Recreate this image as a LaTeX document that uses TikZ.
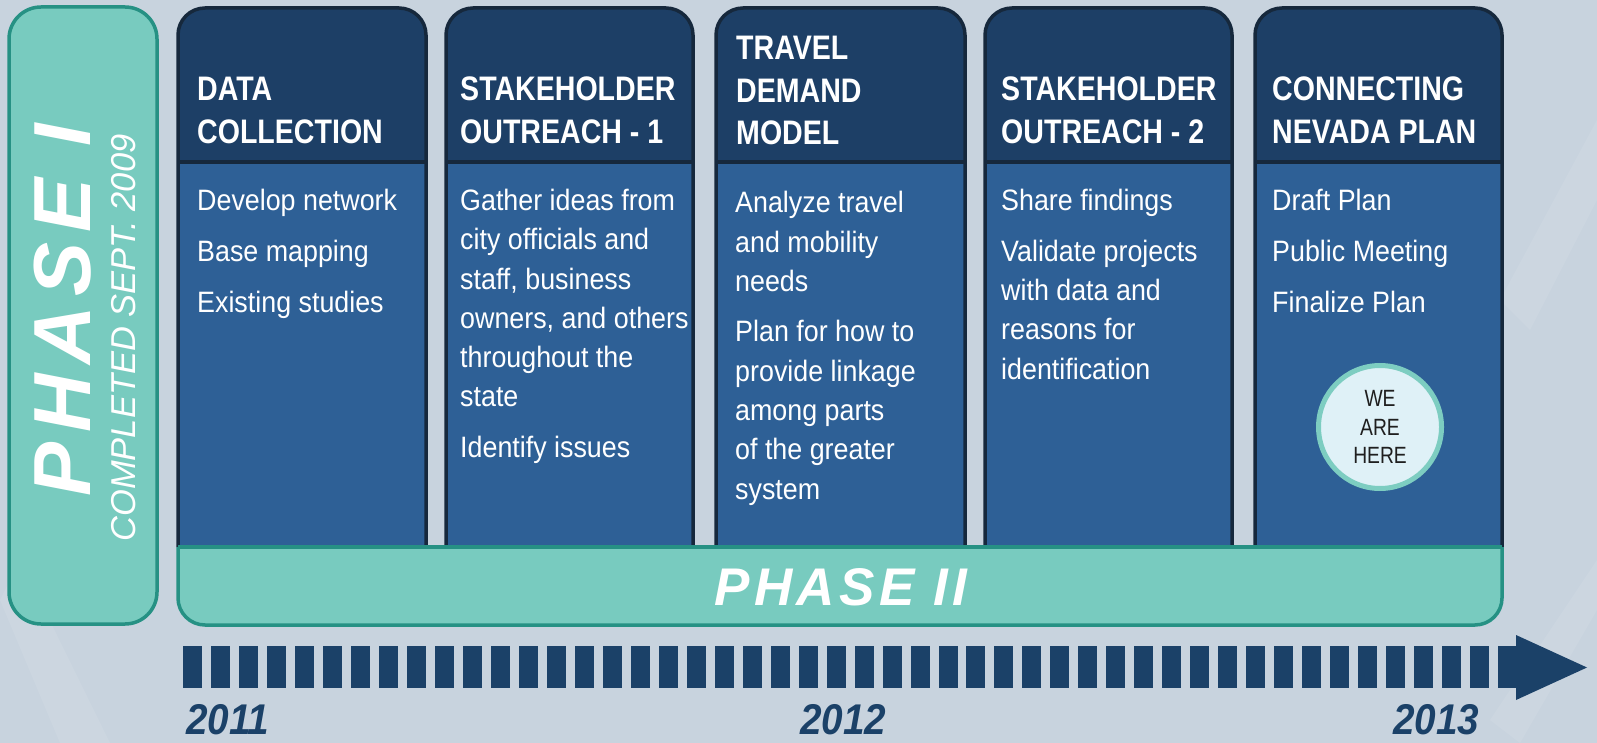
\documentclass[tikz,border=0pt]{standalone}
\usepackage{fontspec}
\setmainfont{Liberation Sans}
\newfontfamily\titlefont{Liberation Sans}[FakeStretch=0.84]
\newfontfamily\bodyfont{Liberation Sans}[FakeStretch=0.91]
\newfontfamily\circfont{Liberation Sans}[FakeStretch=0.82]
\newfontfamily\phasefont{Liberation Sans}[LetterSpace=8]
\newfontfamily\phaseonefont{Liberation Sans}[LetterSpace=12]
\newfontfamily\yearfont{Liberation Sans}[FakeStretch=0.9]
\newfontfamily\plainfont{Liberation Sans}
\definecolor{bgc}{RGB}{200,211,222}
\definecolor{tealfill}{RGB}{120,203,191}
\definecolor{tealline}{RGB}{38,145,132}
\definecolor{headc}{RGB}{29,63,102}
\definecolor{bodyc}{RGB}{46,96,150}
\definecolor{outc}{RGB}{22,40,60}
\definecolor{navy}{RGB}{27,65,104}
\definecolor{circfill}{RGB}{223,241,247}
\definecolor{circline}{RGB}{125,205,193}
\tikzset{
  titletext/.style={anchor=base west, inner sep=0, text=white, font=\titlefont\bfseries\fontsize{34}{42.5}\selectfont},
  bodytext/.style={anchor=base west, inner sep=0, text=white, font=\bodyfont\fontsize{29.5}{39.3}\selectfont},
  yeartext/.style={anchor=base west, inner sep=0, text=navy, font=\yearfont\bfseries\itshape\fontsize{43}{43}\selectfont},
  outline/.style={draw=outc, line width=3.5},
}
\begin{document}
\begin{tikzpicture}[x=1pt,y=-1pt]
\useasboundingbox (0,0) rectangle (1597,743);
\fill[bgc] (0,0) rectangle (1597,743);
% faint streaks
\begin{scope}[opacity=0.08]
\fill[white] (0,600) -- (60,743) -- (110,743) -- (20,560) -- cycle;
\fill[white] (1500,300) -- (1597,120) -- (1597,200) -- (1530,330) -- cycle;
\fill[white] (1490,720) -- (1597,560) -- (1597,610) -- (1520,743) -- cycle;
\end{scope}

% Phase I box
\filldraw[fill=tealfill, draw=tealline, line width=3.5, rounded corners=32] (9,7) rectangle (157,624);
\node[rotate=90, anchor=base, inner sep=0, text=white] (phaseone) at (90,310)
  {\phaseonefont\bfseries\itshape\fontsize{81}{81}\selectfont PHASE I};
\node[rotate=90, anchor=base, inner sep=0, text=white] (completed) at (135,338)
  {\plainfont\itshape\fontsize{34.5}{34.5}\selectfont COMPLETED SEPT. 2009};

% columns
\foreach \a/\b in {178/426,446/693,716/965,985/1232,1255/1502}{
  \fill[headc, rounded corners=27] (\a,8) rectangle (\b,220);
  \fill[bodyc] (\a,162) rectangle (\b,547);
  \draw[outline, rounded corners=27] (\a,547) -- (\a,8) -- (\b,8) -- (\b,547);
  \draw[outline] (\a,162) -- (\b,162);
}

% Phase II bar
\begin{scope}
  \clip (170,547) rectangle (1510,640);
  \filldraw[fill=tealfill, draw=tealline, line width=3.5, rounded corners=27] (178,450) rectangle (1502,625);
\end{scope}
\draw[tealline, line width=3.5] (178,547) -- (1502,547);
\node[anchor=base, inner sep=0, text=white] (phasetwo) at (841,605)
  {\phasefont\bfseries\itshape\fontsize{53}{53}\selectfont PHASE II};

% headers
\node[titletext] (h1) at (197,143.5) {\begin{tabular}[b]{@{}l@{}}DATA\\COLLECTION\end{tabular}};
\node[titletext] (h2) at (460,143.5) {\begin{tabular}[b]{@{}l@{}}STAKEHOLDER\\OUTREACH - 1\end{tabular}};
\node[titletext] (h3) at (736,145) {\begin{tabular}[b]{@{}l@{}}TRAVEL\\DEMAND\\MODEL\end{tabular}};
\node[titletext] (h4) at (1001,143.5) {\begin{tabular}[b]{@{}l@{}}STAKEHOLDER\\OUTREACH - 2\end{tabular}};
\node[titletext] (h5) at (1272,143.5) {\begin{tabular}[b]{@{}l@{}}CONNECTING\\NEVADA PLAN\end{tabular}};

% bodies
\node[bodytext] (b1) at (197,210.5) {\begin{tabular}[t]{@{}l@{}}Develop network\\[11.5pt]Base mapping\\[11.5pt]Existing studies\end{tabular}};
\node[bodytext] (b2) at (460,210.5) {\begin{tabular}[t]{@{}l@{}}Gather ideas from\\city officials and\\staff, business\\owners, and others\\throughout the\\state\\[11pt]Identify issues\end{tabular}};
\node[bodytext] (b3) at (735,213) {\begin{tabular}[t]{@{}l@{}}Analyze travel\\and mobility\\needs\\[11pt]Plan for how to\\provide linkage\\among parts\\of the greater\\system\end{tabular}};
\node[bodytext] (b4) at (1001,211) {\begin{tabular}[t]{@{}l@{}}Share findings\\[11pt]Validate projects\\with data and\\reasons for\\identification\end{tabular}};
\node[bodytext] (b5) at (1272,211) {\begin{tabular}[t]{@{}l@{}}Draft Plan\\[11.5pt]Public Meeting\\[11.5pt]Finalize Plan\end{tabular}};

% we are here
\node[circle, draw=circline, fill=circfill, line width=5, minimum size=123, inner sep=0,
      text=black!88, align=center, font=\circfont\fontsize{23.5}{28.3}\selectfont] (here) at (1380,427) {WE\\ARE\\HERE};

% timeline
\foreach \i in {0,...,47}{
  \fill[navy] (183.3+27.97*\i,646) rectangle ++(19,42);
}
\fill[navy] (1516,635) -- (1587,667.5) -- (1516,700) -- cycle;

% years
\node[yeartext] (y1) at (186,734) {2011};
\node[yeartext] (y2) at (800,734) {2012};
\node[yeartext] (y3) at (1393,734) {2013};
\end{tikzpicture}
\end{document}
